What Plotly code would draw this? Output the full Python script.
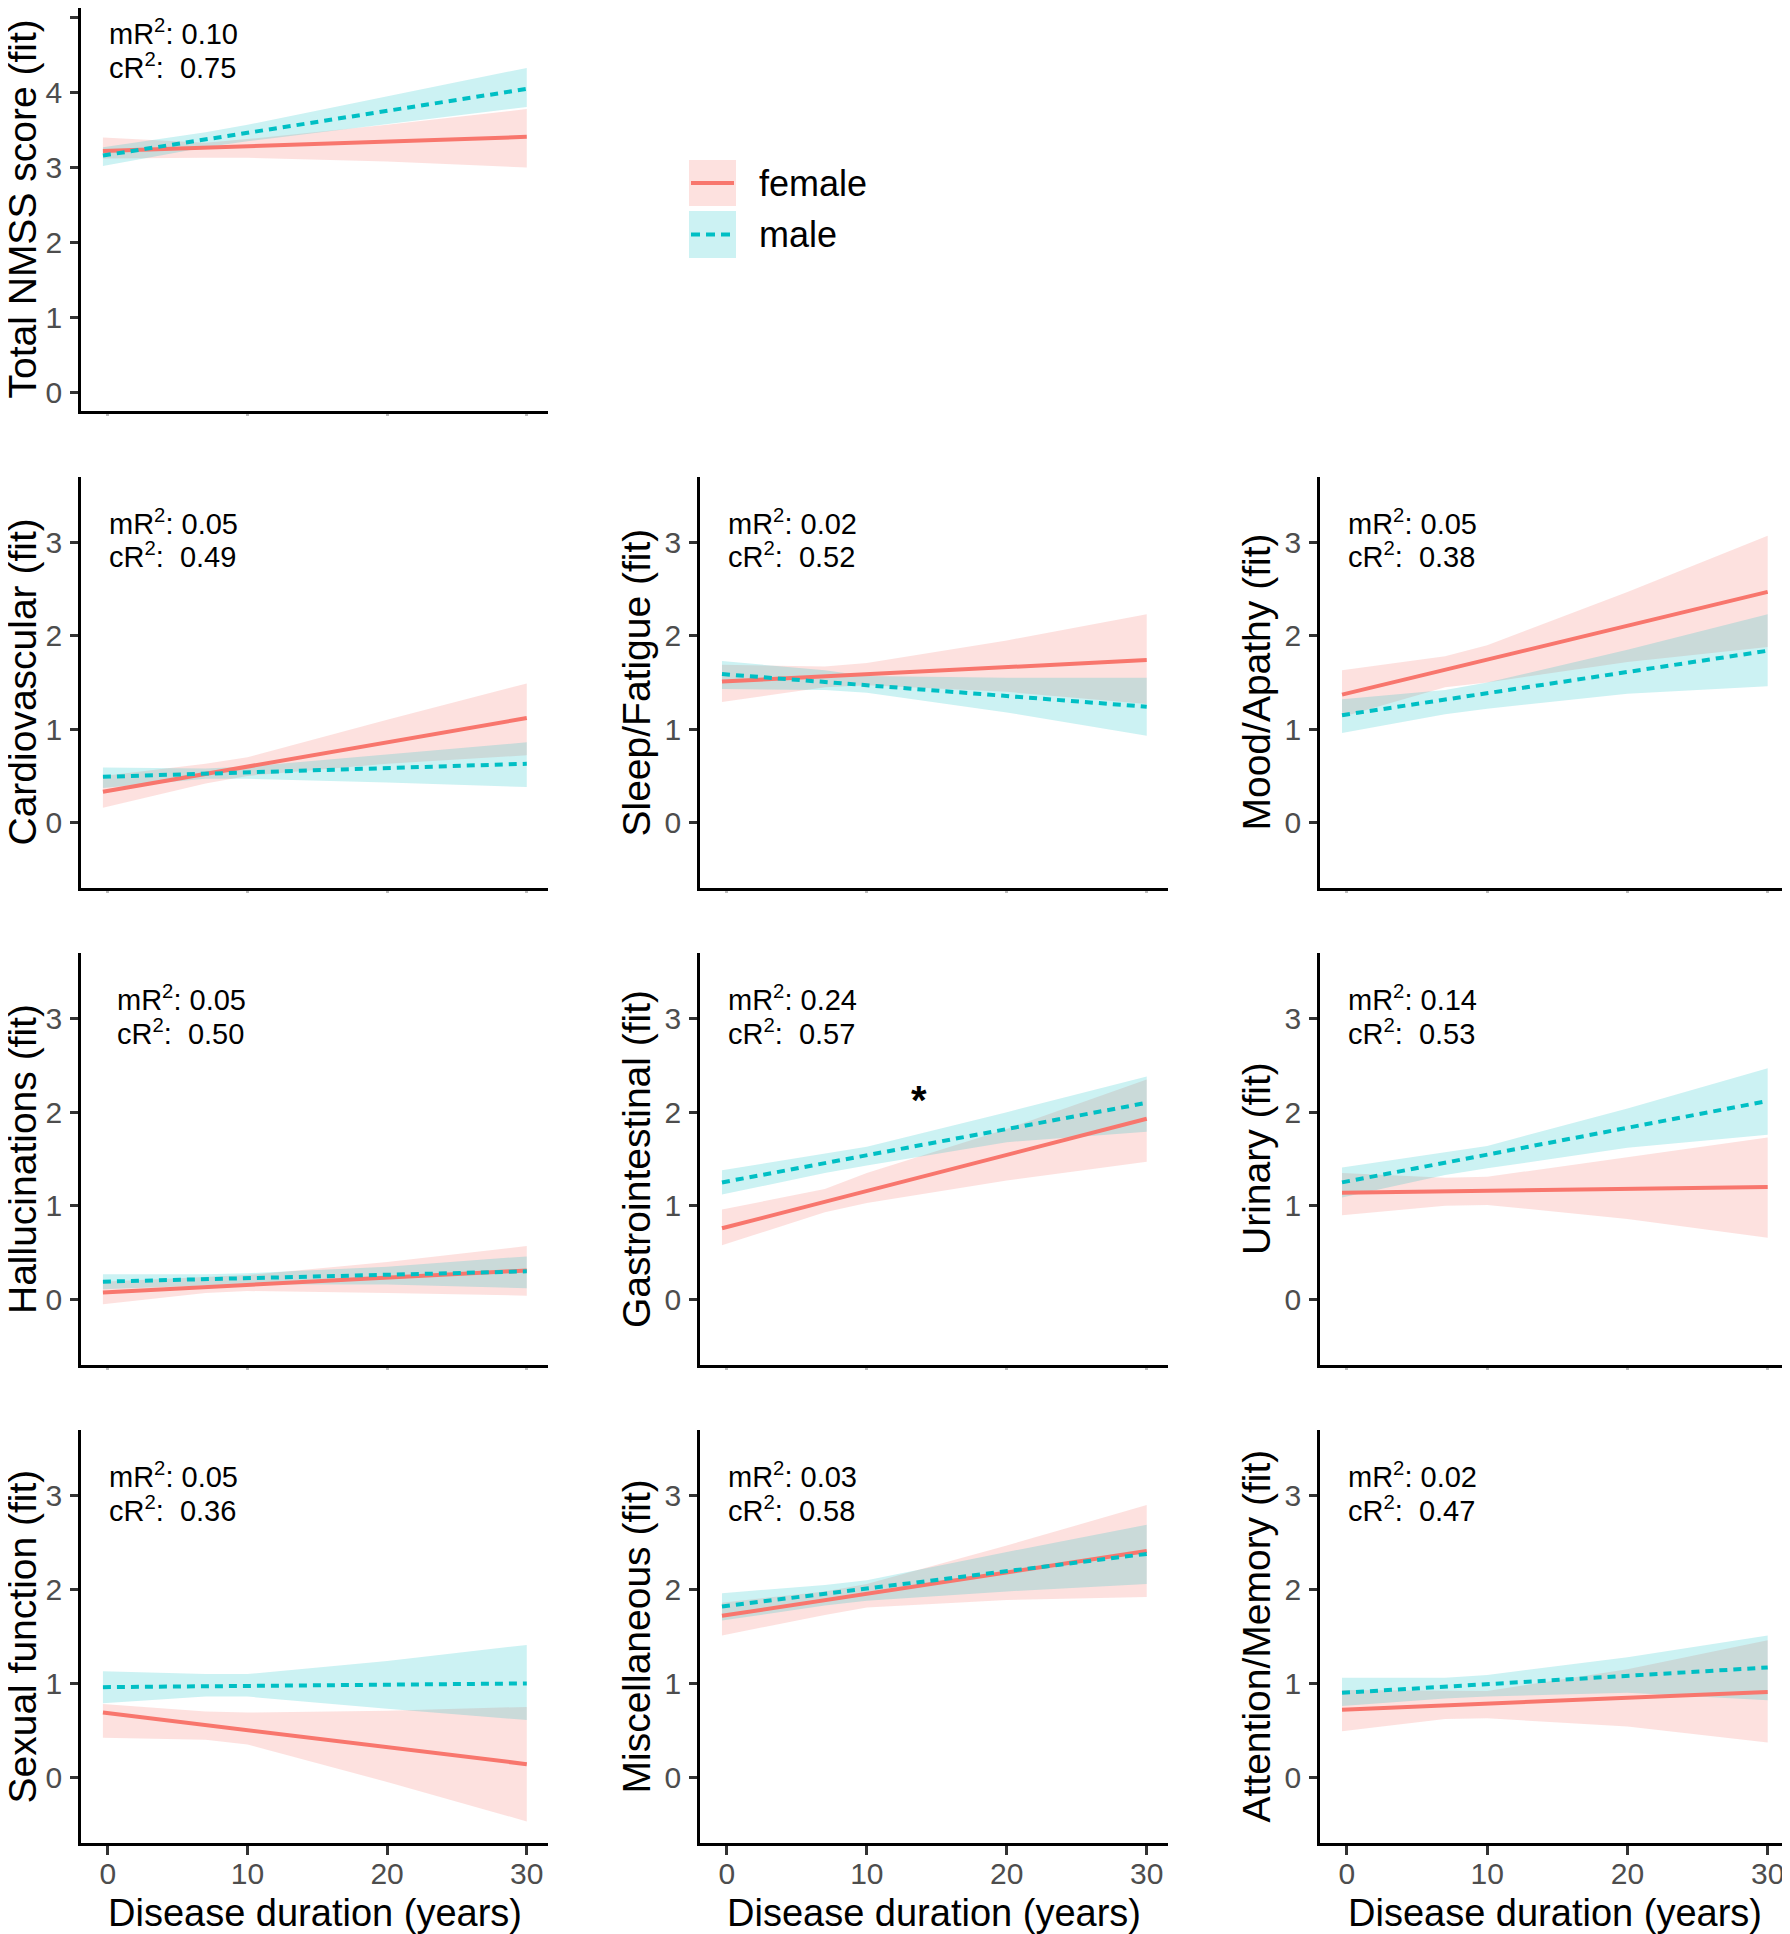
import plotly.graph_objects as go

W, H = 1790, 1934
FONT = "Liberation Sans, Arial, sans-serif"

# ---------------- data ----------------
x_band = [-0.35, 7, 10, 20, 30]      # disease duration (years) where CI bands were read
x_line = [-0.35, 30]                 # fitted lines are straight: start / end
x_ticks = [0, 10, 20, 30]
y_ticks_total = [0, 1, 2, 3, 4, 5]
y_ticks_sub = [0, 1, 2, 3]

titles = ["Total NMSS score (fit)", "Cardiovascular (fit)", "Sleep/Fatigue (fit)",
          "Mood/Apathy (fit)", "Hallucinations (fit)", "Gastrointestinal (fit)",
          "Urinary (fit)", "Sexual function (fit)", "Miscellaneous (fit)",
          "Attention/Memory (fit)"]
mR2 = ["0.10", "0.05", "0.02", "0.05", "0.05", "0.24", "0.14", "0.05", "0.03", "0.02"]
cR2 = ["0.75", "0.49", "0.52", "0.38", "0.50", "0.57", "0.53", "0.36", "0.58", "0.47"]

# Total NMSS
tot_f_line = [3.22, 3.41]
tot_f_hi = [3.40, 3.33, 3.38, 3.57, 3.78]
tot_f_lo = [3.12, 3.13, 3.13, 3.08, 3.00]
tot_m_line = [3.16, 4.05]
tot_m_hi = [3.27, 3.47, 3.57, 3.95, 4.33]
tot_m_lo = [3.02, 3.27, 3.35, 3.58, 3.81]
# Cardiovascular
car_f_line = [0.33, 1.12]
car_f_hi = [0.50, 0.63, 0.70, 1.10, 1.49]
car_f_lo = [0.16, 0.42, 0.50, 0.63, 0.72]
car_m_line = [0.49, 0.63]
car_m_hi = [0.59, 0.58, 0.60, 0.73, 0.86]
car_m_lo = [0.37, 0.47, 0.47, 0.43, 0.38]
# Sleep/Fatigue
slp_f_line = [1.51, 1.74]
slp_f_hi = [1.69, 1.67, 1.71, 1.95, 2.23]
slp_f_lo = [1.29, 1.45, 1.47, 1.40, 1.27]
slp_m_line = [1.59, 1.24]
slp_m_hi = [1.73, 1.63, 1.57, 1.55, 1.55]
slp_m_lo = [1.43, 1.42, 1.39, 1.18, 0.93]
# Mood/Apathy
moo_f_line = [1.37, 2.47]
moo_f_hi = [1.63, 1.78, 1.90, 2.47, 3.07]
moo_f_lo = [1.13, 1.45, 1.50, 1.72, 1.88]
moo_m_line = [1.15, 1.84]
moo_m_hi = [1.32, 1.42, 1.50, 1.85, 2.23]
moo_m_lo = [0.96, 1.16, 1.22, 1.38, 1.46]
# Hallucinations
hal_f_line = [0.075, 0.31]
hal_f_hi = [0.19, 0.24, 0.26, 0.40, 0.57]
hal_f_lo = [-0.05, 0.07, 0.09, 0.07, 0.04]
hal_m_line = [0.19, 0.30]
hal_m_hi = [0.27, 0.27, 0.28, 0.35, 0.46]
hal_m_lo = [0.11, 0.15, 0.16, 0.16, 0.12]
# Gastrointestinal
gas_f_line = [0.76, 1.93]
gas_f_hi = [0.96, 1.18, 1.35, 1.82, 2.35]
gas_f_lo = [0.58, 0.93, 1.03, 1.27, 1.47]
gas_m_line = [1.25, 2.10]
gas_m_hi = [1.38, 1.56, 1.63, 2.00, 2.38]
gas_m_lo = [1.12, 1.35, 1.43, 1.68, 1.79]
# Urinary
uri_f_line = [1.14, 1.20]
uri_f_hi = [1.35, 1.30, 1.31, 1.52, 1.73]
uri_f_lo = [0.90, 1.00, 1.01, 0.86, 0.66]
uri_m_line = [1.25, 2.12]
uri_m_hi = [1.41, 1.57, 1.64, 2.04, 2.47]
uri_m_lo = [1.09, 1.33, 1.40, 1.62, 1.76]
# Sexual function
sex_f_line = [0.69, 0.14]
sex_f_hi = [0.78, 0.70, 0.69, 0.71, 0.75]
sex_f_lo = [0.42, 0.40, 0.35, -0.05, -0.47]
sex_m_line = [0.96, 1.00]
sex_m_hi = [1.13, 1.10, 1.10, 1.24, 1.41]
sex_m_lo = [0.79, 0.86, 0.86, 0.73, 0.61]
# Miscellaneous
mis_f_line = [1.72, 2.41]
mis_f_hi = [1.86, 1.98, 2.06, 2.47, 2.90]
mis_f_lo = [1.51, 1.73, 1.81, 1.89, 1.92]
mis_m_line = [1.82, 2.38]
mis_m_hi = [1.96, 2.05, 2.10, 2.40, 2.69]
mis_m_lo = [1.67, 1.83, 1.88, 1.98, 2.06]
# Attention/Memory
att_f_line = [0.72, 0.91]
att_f_hi = [0.93, 0.92, 0.92, 1.15, 1.46]
att_f_lo = [0.49, 0.62, 0.63, 0.54, 0.37]
att_m_line = [0.90, 1.17]
att_m_hi = [1.06, 1.06, 1.09, 1.28, 1.51]
att_m_lo = [0.76, 0.84, 0.86, 0.90, 0.82]

star_x, star_y = [13.7], [2.23]   # significance marker in Gastrointestinal panel

series = [
    (tot_f_line, tot_f_hi, tot_f_lo, tot_m_line, tot_m_hi, tot_m_lo),
    (car_f_line, car_f_hi, car_f_lo, car_m_line, car_m_hi, car_m_lo),
    (slp_f_line, slp_f_hi, slp_f_lo, slp_m_line, slp_m_hi, slp_m_lo),
    (moo_f_line, moo_f_hi, moo_f_lo, moo_m_line, moo_m_hi, moo_m_lo),
    (hal_f_line, hal_f_hi, hal_f_lo, hal_m_line, hal_m_hi, hal_m_lo),
    (gas_f_line, gas_f_hi, gas_f_lo, gas_m_line, gas_m_hi, gas_m_lo),
    (uri_f_line, uri_f_hi, uri_f_lo, uri_m_line, uri_m_hi, uri_m_lo),
    (sex_f_line, sex_f_hi, sex_f_lo, sex_m_line, sex_m_hi, sex_m_lo),
    (mis_f_line, mis_f_hi, mis_f_lo, mis_m_line, mis_m_hi, mis_m_lo),
    (att_f_line, att_f_hi, att_f_lo, att_m_line, att_m_hi, att_m_lo),
]

# ---------------- style / layout ----------------
F_COL, M_COL = "#F8766D", "#00BFC4"
F_FILL, M_FILL = "rgba(248,118,109,0.22)", "rgba(0,191,196,0.20)"
col_px = [(73, 540), (692, 1160), (1312, 1781)]
title_px = [14, 692 - 64, 1312 - 64]
row_px = [(0, 403), (469, 880), (945, 1357), (1422, 1835)]
grid = [(0, 0), (1, 0), (1, 1), (1, 2), (2, 0), (2, 1), (2, 2), (3, 0), (3, 1), (3, 2)]
XR = [-1.92, 31.52]
YR_TOTAL = [-0.25, 5.13]
YR_SUB = [-0.7, 3.7]
text_x = [-0.05, -0.05, -0.05, -0.05, 0.55, -0.05, -0.05, -0.05, -0.05, -0.05]


def px(x):
    return x / W


def py(y):
    return 1 - y / H


fig = go.Figure()
layout = dict(width=W, height=H, margin=dict(l=0, r=0, t=0, b=0),
              paper_bgcolor="white", plot_bgcolor="white", showlegend=False,
              font=dict(family=FONT))
annotations, shapes = [], []

for i, (r, c) in enumerate(grid):
    k = i + 1
    xa, ya = ("x" if k == 1 else f"x{k}"), ("y" if k == 1 else f"y{k}")
    xname, yname = ("xaxis" if k == 1 else f"xaxis{k}"), ("yaxis" if k == 1 else f"yaxis{k}")
    fl, fh, flo, ml, mh, mlo = series[i]
    for hi, lo, fc in ((fh, flo, F_FILL), (mh, mlo, M_FILL)):
        fig.add_trace(go.Scatter(x=x_band + x_band[::-1], y=hi + lo[::-1], xaxis=xa, yaxis=ya,
                                 mode="lines", fill="toself", fillcolor=fc,
                                 line=dict(width=0), hoverinfo="skip"))
    fig.add_trace(go.Scatter(x=x_line, y=fl, xaxis=xa, yaxis=ya, mode="lines",
                             line=dict(color=F_COL, width=4)))
    fig.add_trace(go.Scatter(x=x_line, y=ml, xaxis=xa, yaxis=ya, mode="lines",
                             line=dict(color=M_COL, width=4, dash="8px,6px")))

    x0, x1 = col_px[c]
    yt, yb = row_px[r]
    bottom = (r == 3)
    layout[xname] = dict(domain=[px(x0), px(x1)], anchor=ya, range=XR,
                         showline=True, linecolor="black", linewidth=2.5,
                         showgrid=False, zeroline=False,
                         tickvals=x_ticks, ticks="outside",
                         ticklen=9 if bottom else 2, tickwidth=2.5,
                         tickcolor="#333333" if bottom else "#BBBBBB",
                         showticklabels=bottom, ticklabelstandoff=-7,
                         tickfont=dict(size=30, color="#4D4D4D", family=FONT))
    layout[yname] = dict(domain=[py(yb), py(yt)], anchor=xa,
                         range=YR_TOTAL if r == 0 else YR_SUB,
                         showline=True, linecolor="black", linewidth=2.5,
                         showgrid=False, zeroline=False,
                         tickvals=y_ticks_total if r == 0 else y_ticks_sub,
                         ticks="outside", ticklen=8, tickwidth=2.5, tickcolor="#333333",
                         ticklabelstandoff=2,
                         tickfont=dict(size=30, color="#4D4D4D", family=FONT))

    # y-axis title
    annotations.append(dict(text=titles[i], xref="paper", yref="paper",
                            x=px(title_px[c]), y=py((yt + yb) / 2), textangle=-90,
                            xanchor="center", yanchor="middle", showarrow=False,
                            font=dict(size=39, color="black", family=FONT)))
    if bottom:
        annotations.append(dict(text="Disease duration (years)", xref="paper", yref="paper",
                                x=px((x0 + x1) / 2), y=py(yb + 70), xanchor="center",
                                yanchor="middle", showarrow=False,
                                font=dict(size=38, color="black", family=FONT)))
    ym, yc = (4.81, 4.36) if r == 0 else (3.22, 2.86)
    annotations.append(dict(text=f"mR<sup>2</sup>: {mR2[i]}", xref=xa, yref=ya,
                            x=text_x[i], y=ym, xanchor="left", yanchor="middle",
                            showarrow=False, font=dict(size=29, color="black", family=FONT)))
    annotations.append(dict(text=f"cR<sup>2</sup>:\u00a0\u00a0{cR2[i]}", xref=xa, yref=ya,
                            x=text_x[i], y=yc, xanchor="left", yanchor="middle",
                            showarrow=False, font=dict(size=29, color="black", family=FONT)))

# significance star (Gastrointestinal = panel 6)
annotations.append(dict(text="<b>*</b>", xref="x6", yref="y6", x=star_x[0], y=star_y[0],
                        xanchor="center", yanchor="middle", yshift=-9, showarrow=False,
                        font=dict(size=40, color="black", family=FONT)))

# legend (manual, ggplot style keys)
legend_items = [("female", F_COL, F_FILL, "solid", 152, 198),
                ("male", M_COL, M_FILL, "9px,6px", 203, 250)]
for label, lc, fc, dash, ky0, ky1 in legend_items:
    shapes.append(dict(type="rect", xref="paper", yref="paper",
                       x0=px(681), x1=px(728), y0=py(ky1), y1=py(ky0),
                       fillcolor=fc, line=dict(width=0)))
    shapes.append(dict(type="line", xref="paper", yref="paper",
                       x0=px(683), x1=px(726), y0=py((ky0 + ky1) / 2), y1=py((ky0 + ky1) / 2),
                       line=dict(color=lc, width=4, dash=dash)))
    annotations.append(dict(text=label, xref="paper", yref="paper", x=px(749),
                            y=py((ky0 + ky1) / 2), xanchor="left", yanchor="middle",
                            showarrow=False, font=dict(size=36, color="black", family=FONT)))

layout["annotations"] = annotations
layout["shapes"] = shapes
fig.update_layout(**layout)
fig.write_html("out.html")
